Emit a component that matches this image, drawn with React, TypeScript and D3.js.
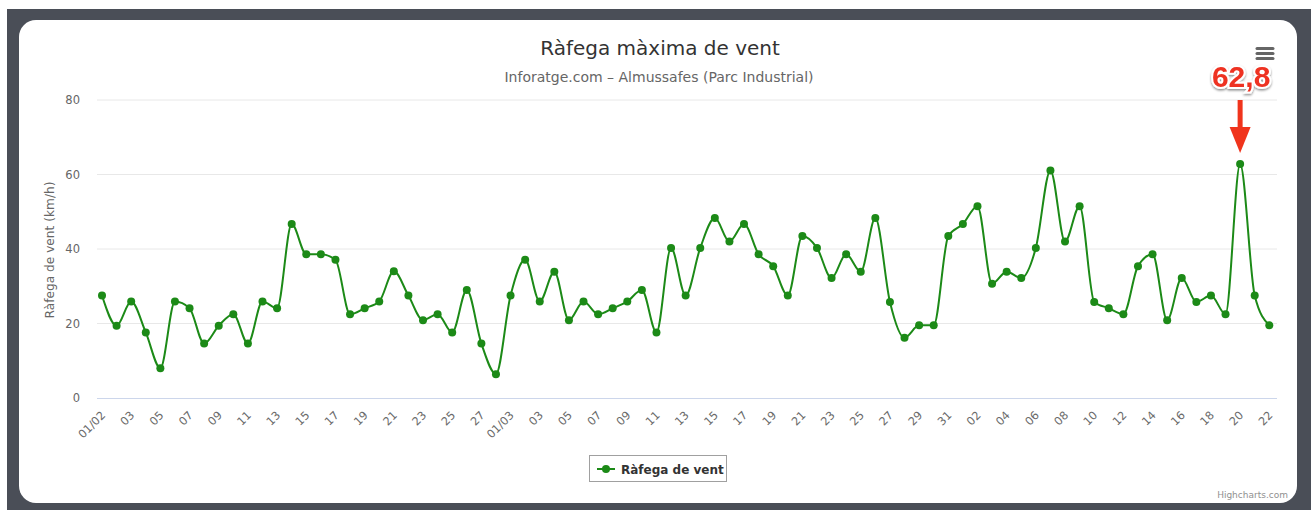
import React from "react";
import * as d3 from "d3";

const TITLE = "Ràfega màxima de vent";
const SUBTITLE = "Inforatge.com – Almussafes (Parc Industrial)";
const Y_TITLE = "Ràfega de vent (km/h)";
const SERIES_NAME = "Ràfega de vent";
const Y_TICKS = [0, 20, 40, 60, 80];
const START_DATE = new Date(2015, 1, 1);
const END_DATE = new Date(2015, 3, 23);
const GUST = [
  27.5, 19.4, 25.9, 17.6, 8.0, 25.9, 24.1, 14.6, 19.4, 22.5,
  14.6, 25.9, 24.1, 46.7, 38.6, 38.6, 37.1, 22.5, 24.1, 25.9,
  34.0, 27.5, 20.9, 22.5, 17.6, 29.0, 14.6, 6.4,
  27.5, 37.1, 25.9, 33.9, 20.9, 25.9, 22.5, 24.1, 25.9, 29.0,
  17.6, 40.3, 27.5, 40.3, 48.3, 42.0, 46.7, 38.6, 35.4, 27.5,
  43.5, 40.3, 32.2, 38.6, 33.9, 48.3, 25.8, 16.2, 19.5, 19.5,
  43.5,
  46.7, 51.5, 30.7, 33.9, 32.2, 40.3, 61.1, 42.0, 51.5, 25.8,
  24.1, 22.5, 35.4, 38.6, 20.9, 32.2, 25.8, 27.5, 22.5, 62.8,
  27.5, 19.5,
];
const ANNOTATION = "62,8";

const W = 1311;
const H = 510;
const LINE_COLOR = "#1c8a17";
const FONT = "'DejaVu Sans', Verdana, sans-serif";

export default function App() {
  const dates = d3.timeDay.range(START_DATE, END_DATE);
  const x = d3.scaleLinear().domain([0, dates.length - 1]).range([102, 1269.3]);
  const y = d3.scaleLinear().domain([0, 80]).range([398, 100]);
  const line = d3
    .line<number>()
    .x((_, i) => x(i))
    .y((d) => y(d))
    .curve(d3.curveMonotoneX);
  const fmt = (d: Date) => (d.getDate() === 1 ? d3.timeFormat("%d/%m")(d) : d3.timeFormat("%d")(d));
  const maxIdx = d3.maxIndex(GUST);
  const ax = x(maxIdx);
  const ay = y(GUST[maxIdx]);

  return (
    <svg width={W} height={H} style={{ position: "absolute", left: 0, top: 0 }} fontFamily={FONT}>
      <defs>
        <filter id="sh" x="-20%" y="-20%" width="140%" height="160%">
          <feDropShadow dx="0" dy="1.5" stdDeviation="1.2" floodColor="#000" floodOpacity="0.45" />
        </filter>
      </defs>
      <rect x={0} y={0} width={W} height={H} fill="#fff" />
      <rect x={7} y={9} width={W - 7} height={H - 9} fill="#4a4e57" />
      <rect x={19} y={20} width={1278} height={483} rx={17} fill="#fff" />

      <text x={660} y={55} textAnchor="middle" fontSize={20} fill="#333">{TITLE}</text>
      <text x={659} y={82} textAnchor="middle" fontSize={14} fill="#666">{SUBTITLE}</text>

      {Y_TICKS.map((t) => (
        <g key={t}>
          {t > 0 && <line x1={97} x2={1277} y1={y(t)} y2={y(t)} stroke="#e8e8e8" strokeWidth={1} />}
          <text x={80} y={y(t) + 4} textAnchor="end" fontSize={11.5} fill="#666">{t}</text>
        </g>
      ))}
      <line x1={97} x2={1277} y1={398.5} y2={398.5} stroke="#ccd6eb" strokeWidth={1} />

      <text
        transform={`translate(54,250) rotate(-90)`}
        textAnchor="middle"
        fontSize={12.2}
        fill="#666"
      >
        {Y_TITLE}
      </text>

      {dates.map((d, i) =>
        i % 2 === 0 ? (
          <text
            key={i}
            transform={`translate(${x(i) + 4},${416}) rotate(-45)`}
            textAnchor="end"
            fontSize={11.3}
            fill="#6a6a6a"
          >
            {fmt(d)}
          </text>
        ) : null
      )}

      <path d={line(GUST) || ""} fill="none" stroke={LINE_COLOR} strokeWidth={2} />
      {GUST.map((v, i) => (
        <circle key={i} cx={x(i)} cy={y(v)} r={4} fill={LINE_COLOR} />
      ))}

      {/* annotation */}
      <rect x={ax - 2.5} y={100} width={5} height={30} fill="#f0341c" />
      <path d={`M${ax - 10.5},127 L${ax + 10.5},127 L${ax},${ay - 11} Z`} fill="#f0341c" />
      <text
        x={ax + 1}
        y={87}
        textAnchor="middle"
        fontFamily="'Liberation Sans', Arial, sans-serif"
        fontWeight="bold"
        fontSize={30}
        fill="#ee3322"
        stroke="#fff"
        strokeWidth={4}
        paintOrder="stroke"
        filter="url(#sh)"
      >
        {ANNOTATION}
      </text>

      {/* menu */}
      {[48.5, 53.5, 58.5].map((yy) => (
        <line key={yy} x1={1257} x2={1273} y1={yy} y2={yy} stroke="#666" strokeWidth={3} strokeLinecap="round" />
      ))}

      {/* legend */}
      <rect x={589.5} y={455.5} width={137} height={26} fill="#fff" stroke="#a0a0a0" strokeWidth={1} />
      <line x1={597} x2={615} y1={469} y2={469} stroke={LINE_COLOR} strokeWidth={2} />
      <circle cx={606} cy={469} r={4} fill={LINE_COLOR} />
      <text x={621} y={473.5} fontSize={12} fontWeight="bold" fill="#333">{SERIES_NAME}</text>

      <text x={1288} y={498} textAnchor="end" fontSize={9} fill="#909090">Highcharts.com</text>
    </svg>
  );
}
